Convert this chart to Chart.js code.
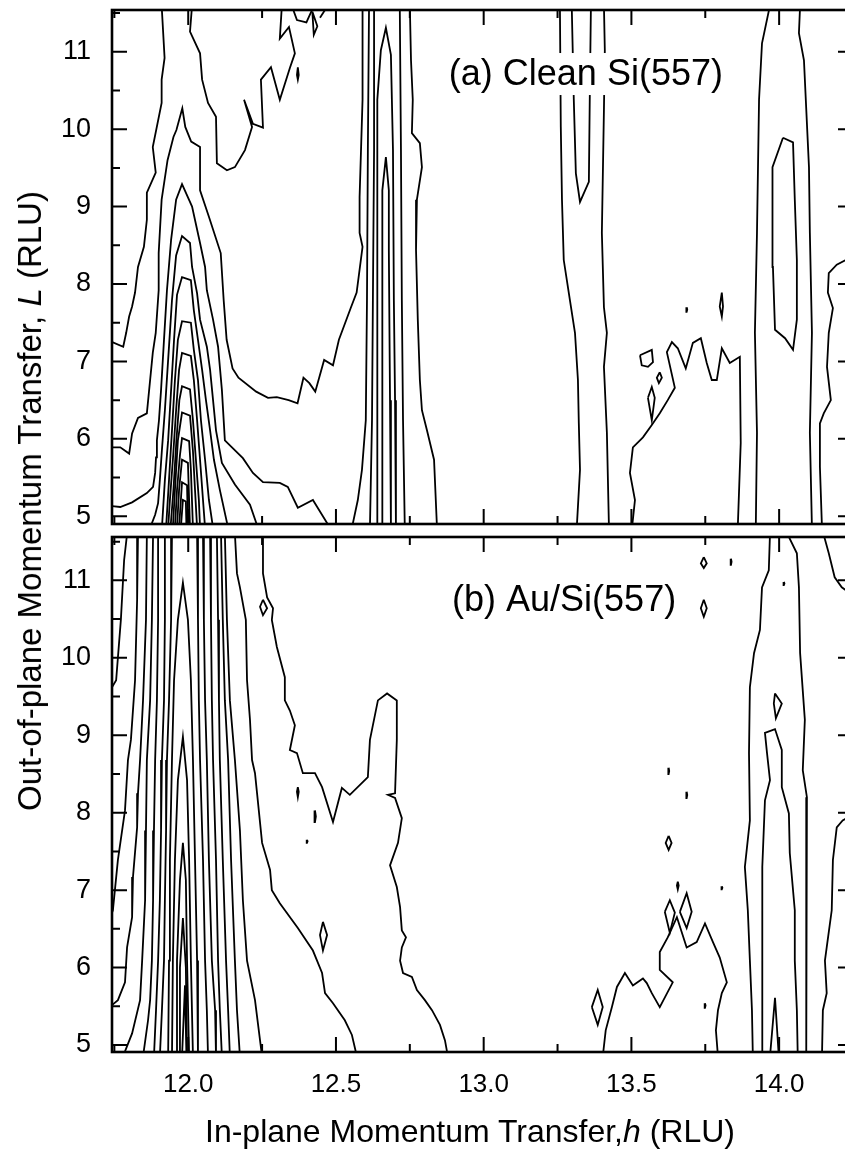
<!DOCTYPE html>
<html>
<head>
<meta charset="utf-8">
<title>Si(557) reciprocal space maps</title>
<script src="https://cdn.jsdelivr.net/npm/chart.js@4.4.1/dist/chart.umd.min.js"></script>
<style>
  html, body { margin: 0; padding: 0; background: #fff; overflow: hidden; }
  body { width: 845px; height: 1156px; position: relative; font-family: "Liberation Sans", Arial, sans-serif; }
  canvas { position: absolute; left: 0; }
  #top { top: 0; }
  #bottom { top: 530px; }
  .axis-title { position: absolute; white-space: nowrap; color: #000; }
  #ytitle { left: 30px; top: 501px; font-size: 33px; transform: translate(-50%, -50%) rotate(-90deg); }
  #xtitle { left: 470px; top: 1131px; font-size: 32px; transform: translate(-50%, -50%); }
</style>
</head>
<body>
<canvas id="top" width="860" height="530"></canvas>
<canvas id="bottom" width="860" height="626"></canvas>
<div id="ytitle" class="axis-title">Out-of-plane Momentum Transfer, <i>L</i> (RLU)</div>
<div id="xtitle" class="axis-title">In-plane Momentum Transfer,<i>h</i> (RLU)</div>
<script>
// axis ranges and ticks
const hRange = [11.742, 14.25];
const cleanLRange = [4.90, 11.54];
const auLRange = [4.91, 11.56];
const hTickLabels = [12.0, 12.5, 13.0, 13.5, 14.0];
const hMinorTicks = [11.75, 12.0, 12.25, 12.5, 12.75, 13.0, 13.25, 13.5, 13.75, 14.0];
const lTickLabels = [5, 6, 7, 8, 9, 10, 11];
const lMinorTicks = [5, 5.5, 6, 6.5, 7, 7.5, 8, 8.5, 9, 9.5, 10, 10.5, 11, 11.5];

// (a) clean Si(557): contour lines as [h, L] points
const cleanPeak = [
  [[11.91,11.6],[11.92,10.92],[11.91,10.64],[11.91,10.34],[11.88,9.77],[11.89,9.44],[11.86,9.18],[11.86,8.83],[11.85,8.48],[11.83,8.22],[11.82,7.89],[11.81,7.71],[11.80,7.58],[11.79,7.37],[11.78,7.19],[11.70,7.32]],
  [[12.013,11.6],[12.006,11.26],[12.040,10.98],[12.047,10.64],[12.067,10.34],[12.094,10.16],[12.097,9.56],[12.131,9.47],[12.158,9.51],[12.192,9.73],[12.216,10.03],[12.189,10.38],[12.219,10.07],[12.253,10.02],[12.246,10.64],[12.280,10.80],[12.310,10.38],[12.344,10.79],[12.361,10.98],[12.341,11.32],[12.310,11.17],[12.317,11.6]],
  [[12.35,11.6],[12.368,11.41],[12.40,11.38],[12.419,11.54]],
  [[12.42,11.52],[12.425,11.22],[12.437,11.33],[12.42,11.52]],
  [[12.446,11.44],[12.473,11.6]],
  [[12.371,10.80],[12.374,10.70],[12.371,10.64],[12.368,10.70],[12.371,10.80]],
  [[11.70,5.89],[11.77,5.89],[11.80,5.81],[11.81,6.07],[11.83,6.27],[11.86,6.33],[11.88,7.11],[11.89,7.37],[11.90,7.92],[11.90,8.40],[11.91,9.09],[11.93,9.60],[11.95,9.90],[11.96,9.99],[11.98,10.27],[11.99,10.03],[12.01,9.84],[12.04,9.77],[12.04,9.44],[12.04,9.21],[12.07,8.87],[12.11,8.40],[12.12,7.79],[12.13,7.28],[12.15,6.91],[12.17,6.79],[12.23,6.61],[12.27,6.53],[12.30,6.54],[12.34,6.50],[12.37,6.46],[12.39,6.79],[12.41,6.72],[12.43,6.61],[12.46,7.02],[12.49,6.95],[12.51,7.28],[12.55,7.69],[12.57,7.89],[12.59,8.48],[12.58,8.66],[12.58,9.12],[12.59,10.38],[12.59,11.6]],
  [[11.70,5.15],[11.77,5.12],[11.81,5.18],[11.86,5.30],[11.881,5.38],[11.888,5.56],[11.891,5.76],[11.894,5.98],[11.901,6.24],[11.908,6.63],[11.918,7.28],[11.928,7.92],[11.942,8.57],[11.959,9.09],[11.979,9.29],[12.013,9.00],[12.040,8.53],[12.057,8.22],[12.063,7.92],[12.084,7.54],[12.101,7.19],[12.114,6.63],[12.124,5.98],[12.148,5.89],[12.185,5.75],[12.219,5.56],[12.253,5.44],[12.310,5.43],[12.337,5.38],[12.371,5.11],[12.422,5.21],[12.48,4.85]],
  [[11.871,4.85],[11.888,5.02],[11.898,5.17],[11.904,5.47],[11.911,5.86],[11.921,6.37],[11.932,7.02],[11.945,7.79],[11.959,8.37],[11.979,8.62],[12.006,8.53],[12.013,8.22],[12.030,7.88],[12.040,7.54],[12.063,7.19],[12.074,6.89],[12.084,6.50],[12.094,6.11],[12.114,5.69],[12.158,5.41],[12.209,5.15],[12.236,4.85]],
  [[11.911,4.85],[11.921,5.47],[11.932,5.98],[11.942,6.63],[11.952,7.28],[11.962,7.86],[11.979,8.09],[12.009,8.05],[12.019,7.66],[12.033,7.28],[12.047,6.89],[12.060,6.50],[12.074,6.11],[12.087,5.73],[12.107,5.34],[12.135,4.85]],
  [[11.925,4.85],[11.935,5.47],[11.945,6.11],[11.955,6.76],[11.965,7.28],[11.979,7.52],[12.009,7.50],[12.019,7.15],[12.033,6.76],[12.043,6.24],[12.057,5.73],[12.070,5.21],[12.084,4.85]],
  [[11.932,4.85],[11.938,5.21],[11.948,5.73],[11.959,6.37],[11.969,6.89],[11.979,7.11],[12.009,7.07],[12.019,6.76],[12.030,6.24],[12.040,5.73],[12.050,5.21],[12.057,4.85]],
  [[11.940,4.85],[11.950,5.34],[11.960,5.98],[11.970,6.50],[11.979,6.68],[12.006,6.64],[12.016,6.24],[12.026,5.73],[12.036,5.21],[12.040,4.85]],
  [[11.948,4.85],[11.955,5.34],[11.965,5.98],[11.979,6.34],[12.006,6.30],[12.016,5.84],[12.023,5.34],[12.030,4.85]],
  [[11.955,4.85],[11.962,5.34],[11.972,5.79],[11.979,6.01],[12.003,5.97],[12.009,5.60],[12.016,4.85]],
  [[11.962,4.85],[11.969,5.34],[11.979,5.73],[11.999,5.69],[12.006,4.85]],
  [[11.969,4.85],[11.979,5.44],[11.996,5.40],[11.999,4.85]],
  [[11.975,4.85],[11.982,5.21],[11.992,5.19],[11.994,4.85]]
];
const cleanBand = [
  [[12.612,11.6],[12.608,9.73],[12.605,7.79],[12.601,6.24],[12.588,5.60],[12.574,5.21],[12.554,4.85]],
  [[12.629,11.6],[12.629,9.73],[12.625,7.79],[12.622,6.24],[12.615,4.85]],
  [[12.639,4.85],[12.639,6.50],[12.639,8.44],[12.642,10.38],[12.652,11.02],[12.669,11.31],[12.686,10.96],[12.693,9.73],[12.696,7.79],[12.700,6.50],[12.703,4.85]],
  [[12.656,4.85],[12.656,6.50],[12.656,8.44],[12.659,9.21],[12.669,9.64],[12.679,9.21],[12.679,8.44],[12.683,6.50],[12.686,4.85]],
  [[12.716,11.6],[12.720,9.73],[12.723,7.79],[12.727,6.24],[12.733,4.85]],
  [[12.750,11.6],[12.754,10.89],[12.760,10.38],[12.757,9.95],[12.784,9.82],[12.791,9.51],[12.774,9.09],[12.771,8.44],[12.777,7.54],[12.784,6.76],[12.791,6.37],[12.808,6.11],[12.832,5.73],[12.842,4.85]]
];
const cleanRight = [
  [[13.258,11.6],[13.261,10.03],[13.265,9.09],[13.271,8.31],[13.292,7.79],[13.309,7.37],[13.319,6.76],[13.322,6.20],[13.326,5.60],[13.315,4.85]],
  [[13.298,11.6],[13.305,10.38],[13.312,9.43],[13.326,9.06],[13.356,9.32],[13.359,10.38],[13.363,11.6]],
  [[13.407,11.6],[13.410,11.02],[13.407,10.25],[13.400,8.66],[13.407,7.70],[13.417,7.37],[13.407,6.93],[13.417,6.08],[13.424,4.85]],
  [[13.502,4.85],[13.512,5.21],[13.495,5.56],[13.505,5.89],[13.539,6.02],[13.569,6.18],[13.596,6.33],[13.623,6.50],[13.647,6.66],[13.620,7.12],[13.637,7.25],[13.657,7.17],[13.684,6.91],[13.708,7.24],[13.735,7.30],[13.755,6.98],[13.772,6.76],[13.789,6.76],[13.806,7.17],[13.833,6.98],[13.867,7.06],[13.870,5.95],[13.860,4.85]],
  [[13.529,7.08],[13.569,7.15],[13.573,6.99],[13.556,6.93],[13.535,6.95],[13.529,7.08]],
  [[13.596,6.86],[13.603,6.79],[13.593,6.72],[13.586,6.79],[13.596,6.86]],
  [[13.556,6.53],[13.569,6.67],[13.579,6.53],[13.569,6.24],[13.556,6.53]],
  [[13.687,7.70],[13.689,7.67],[13.687,7.64],[13.685,7.67],[13.687,7.70]],
  [[13.806,7.89],[13.810,7.71],[13.806,7.58],[13.799,7.71],[13.806,7.89]],
  [[13.969,11.6],[13.942,11.11],[13.932,10.38],[13.925,8.66],[13.918,7.37],[13.925,6.08],[13.921,4.85]],
  [[14.071,11.6],[14.067,11.24],[14.084,10.89],[14.101,9.51],[14.104,8.66],[14.111,7.37],[14.104,6.08],[14.111,4.85]],
  [[14.013,9.89],[14.047,9.83],[14.053,9.09],[14.060,8.31],[14.060,7.54],[14.047,7.15],[14.020,7.30],[13.986,7.41],[13.979,8.22],[13.976,8.66],[13.979,9.51],[14.013,9.89]],
  [[14.26,8.38],[14.195,8.25],[14.168,8.14],[14.165,7.89],[14.182,7.69],[14.168,7.37],[14.162,6.93],[14.175,6.50],[14.151,6.33],[14.138,6.20],[14.138,5.64],[14.145,4.85]],
  [[14.22,4.85],[14.235,5.0],[14.26,5.05]]
];

// (b) Au/Si(557)
const auPeak = [
  [[11.793,11.6],[11.783,11.26],[11.772,10.49],[11.756,9.71],[11.70,9.35]],
  [[11.830,11.6],[11.827,10.75],[11.820,9.71],[11.806,8.94],[11.796,8.68],[11.786,8.03],[11.762,7.39],[11.745,6.74],[11.70,6.25]],
  [[11.860,11.6],[11.857,10.49],[11.847,9.45],[11.837,8.68],[11.830,8.25],[11.827,7.81],[11.813,7.17],[11.810,6.65],[11.793,6.26],[11.786,5.81],[11.762,5.58],[11.70,5.38]],
  [[11.881,11.6],[11.877,10.49],[11.871,9.45],[11.860,8.68],[11.857,7.77],[11.854,6.87],[11.844,6.09],[11.837,5.58],[11.810,5.15],[11.779,4.85]],
  [[11.898,11.6],[11.898,10.49],[11.894,9.45],[11.888,8.68],[11.884,7.77],[11.881,6.87],[11.877,6.09],[11.871,5.58],[11.864,5.32],[11.847,4.85]],
  [[11.921,11.6],[11.921,10.49],[11.918,9.45],[11.911,8.68],[11.908,7.77],[11.904,6.87],[11.898,6.09],[11.891,5.45],[11.884,4.85]],
  [[11.945,11.6],[11.942,10.49],[11.935,9.45],[11.928,8.68],[11.925,7.77],[11.921,6.87],[11.918,6.09],[11.911,5.45],[11.904,4.85]],
  [[11.932,4.85],[11.935,6.09],[11.938,7.39],[11.945,8.68],[11.952,9.71],[11.965,10.49],[11.982,10.97],[11.999,10.49],[12.009,9.71],[12.016,8.68],[12.023,7.39],[12.030,6.09],[12.033,4.85]],
  [[11.945,4.85],[11.948,6.09],[11.955,7.39],[11.965,8.42],[11.982,8.98],[11.996,8.42],[12.003,7.39],[12.009,6.09],[12.016,4.85]],
  [[11.959,4.85],[11.962,6.09],[11.972,7.13],[11.982,7.61],[11.992,7.13],[11.996,6.09],[12.003,4.85]],
  [[11.969,4.85],[11.972,6.00],[11.982,6.64],[11.992,6.00],[11.996,4.85]],
  [[11.979,4.85],[11.989,5.77],[11.994,4.85]],
  [[12.030,11.6],[12.033,10.49],[12.036,9.45],[12.040,8.68],[12.050,7.39],[12.057,6.09],[12.063,5.45],[12.067,4.85]],
  [[12.050,11.6],[12.053,10.49],[12.057,9.45],[12.063,8.68],[12.070,7.39],[12.080,6.09],[12.091,5.45],[12.094,4.85]],
  [[12.074,11.6],[12.077,10.49],[12.080,9.45],[12.084,8.68],[12.094,7.39],[12.101,6.09],[12.107,5.45],[12.114,4.85]],
  [[12.097,11.6],[12.101,10.49],[12.104,9.45],[12.107,8.68],[12.117,7.39],[12.128,6.09],[12.135,5.45],[12.141,4.85]],
  [[12.111,11.6],[12.117,10.49],[12.124,9.45],[12.135,8.68],[12.145,7.39],[12.158,6.09],[12.165,5.45],[12.175,4.85]],
  [[12.124,11.6],[12.131,10.49],[12.141,9.45],[12.158,8.68],[12.175,7.77],[12.185,6.87],[12.199,6.09],[12.226,5.58],[12.250,4.85]],
  [[12.158,11.6],[12.165,11.09],[12.175,10.91],[12.195,10.49],[12.199,9.71],[12.209,9.20],[12.216,8.68],[12.226,8.51],[12.233,8.25],[12.250,7.61],[12.277,7.26],[12.283,7.00],[12.310,6.83],[12.371,6.51],[12.422,6.22],[12.453,5.93],[12.463,5.67],[12.490,5.54],[12.530,5.32],[12.554,5.13],[12.571,4.85]]
];
const auMiddle = [
  [[12.253,11.6],[12.253,11.09],[12.267,10.78],[12.287,10.64],[12.283,10.49],[12.300,10.14],[12.327,9.75],[12.327,9.45],[12.344,9.32],[12.361,9.13],[12.344,8.81],[12.368,8.77],[12.388,8.51],[12.429,8.51],[12.453,8.33],[12.490,7.88],[12.520,8.32],[12.547,8.23],[12.608,8.46],[12.615,8.94],[12.642,9.45],[12.673,9.54],[12.706,9.45],[12.706,8.94],[12.700,8.25],[12.676,8.23],[12.700,8.19],[12.723,7.93],[12.710,7.61],[12.683,7.32],[12.706,7.04],[12.717,6.78],[12.723,6.48],[12.737,6.39],[12.723,6.26],[12.717,6.09],[12.727,5.93],[12.757,5.88],[12.774,5.71],[12.801,5.58],[12.825,5.45],[12.852,5.26],[12.869,5.06],[12.879,4.85]],
  [[12.253,10.75],[12.267,10.64],[12.253,10.55],[12.243,10.66],[12.253,10.75]],
  [[12.371,8.33],[12.374,8.27],[12.371,8.20],[12.368,8.27],[12.371,8.33]],
  [[12.429,8.03],[12.432,7.95],[12.429,7.88],[12.426,7.95],[12.429,8.03]],
  [[12.402,7.65],[12.404,7.63],[12.402,7.61],[12.400,7.63],[12.402,7.65]],
  [[12.456,6.59],[12.470,6.42],[12.456,6.22],[12.446,6.42],[12.456,6.59]]
];
const auRight = [
  [[13.745,11.30],[13.755,11.22],[13.745,11.16],[13.735,11.22],[13.745,11.30]],
  [[13.837,11.28],[13.839,11.24],[13.837,11.20],[13.835,11.24],[13.837,11.28]],
  [[13.745,10.75],[13.755,10.64],[13.745,10.53],[13.735,10.64],[13.745,10.75]],
  [[14.016,10.98],[14.018,10.96],[14.016,10.94],[14.014,10.96],[14.016,10.98]],
  [[13.986,9.54],[14.009,9.41],[13.989,9.22],[13.982,9.41],[13.986,9.54]],
  [[13.626,8.58],[13.628,8.54],[13.626,8.50],[13.624,8.54],[13.626,8.58]],
  [[13.687,8.27],[13.689,8.23],[13.687,8.19],[13.685,8.23],[13.687,8.27]],
  [[13.626,7.70],[13.636,7.61],[13.626,7.52],[13.616,7.61],[13.626,7.70]],
  [[13.657,7.11],[13.660,7.06],[13.657,7.01],[13.654,7.06],[13.657,7.11]],
  [[13.806,7.05],[13.808,7.03],[13.806,7.01],[13.804,7.03],[13.806,7.05]],
  [[13.613,6.72],[13.630,6.87],[13.647,6.71],[13.630,6.45],[13.613,6.72]],
  [[13.664,6.72],[13.687,6.96],[13.704,6.72],[13.687,6.51],[13.664,6.72]],
  [[13.403,4.85],[13.413,5.19],[13.434,5.49],[13.451,5.75],[13.478,5.93],[13.505,5.77],[13.539,5.86],[13.552,5.80],[13.569,5.67],[13.596,5.49],[13.640,5.81],[13.596,5.97],[13.596,6.20],[13.623,6.39],[13.654,6.65],[13.687,6.26],[13.721,6.33],[13.749,6.57],[13.776,6.33],[13.799,6.13],[13.823,5.81],[13.806,5.67],[13.793,5.45],[13.786,5.19],[13.793,4.85]],
  [[13.366,5.49],[13.386,5.71],[13.403,5.49],[13.386,5.26],[13.366,5.49]],
  [[13.749,5.54],[13.751,5.51],[13.749,5.48],[13.747,5.51],[13.749,5.54]],
  [[13.969,11.6],[13.965,11.13],[13.942,10.91],[13.935,10.36],[13.915,10.06],[13.901,9.62],[13.898,8.77],[13.901,7.90],[13.884,7.30],[13.894,6.74],[13.901,6.09],[13.908,5.45],[13.911,4.85]],
  [[14.028,11.6],[14.060,11.35],[14.067,10.91],[14.071,10.06],[14.087,9.20],[14.080,8.55],[14.094,8.20],[14.091,7.39],[14.091,6.52],[14.091,5.45],[14.094,4.85]],
  [[13.942,4.85],[13.942,5.45],[13.945,6.09],[13.942,7.30],[13.952,8.16],[13.969,8.42],[13.959,8.77],[13.952,9.03],[13.986,9.08],[14.009,8.81],[14.009,8.33],[14.033,7.99],[14.036,7.48],[14.053,6.74],[14.053,6.09],[14.060,5.45],[14.063,4.85]],
  [[14.150,11.6],[14.168,11.35],[14.188,11.04],[14.212,10.91],[14.26,10.78]],
  [[14.26,8.00],[14.215,7.90],[14.195,7.81],[14.182,7.39],[14.178,6.74],[14.161,6.26],[14.155,6.09],[14.161,5.67],[14.148,5.45],[14.145,4.85]],
  [[13.969,4.85],[13.986,5.61],[13.999,4.85]]
];

const FONT = '"Liberation Sans", Arial, Helvetica, sans-serif';
Chart.defaults.font.family = FONT;
Chart.defaults.color = '#000';

function near(list, v) {
  return list.some(t => Math.abs(t - v) < 1e-6);
}

// frame, inward ticks and panel caption
const panelFrame = {
  id: 'panelFrame',
  afterDatasetsDraw(chart, args, opts) {
    const {ctx, chartArea: {left, right, top, bottom}, scales: {x, y}} = chart;
    ctx.save();
    if (opts.text) {
      ctx.font = '36px ' + FONT;
      ctx.textBaseline = 'middle';
      ctx.textAlign = 'left';
      const tx = x.getPixelForValue(opts.at[0]);
      const ty = y.getPixelForValue(opts.at[1]);
      const w = ctx.measureText(opts.text).width;
      ctx.fillStyle = '#fff';
      ctx.fillRect(tx - 4, ty - 22, w + 8, 42);
      ctx.fillStyle = '#000';
      ctx.fillText(opts.text, tx, ty);
    }
    ctx.strokeStyle = '#000';
    ctx.lineWidth = 2;
    ctx.beginPath();
    hMinorTicks.forEach(v => {
      const px = x.getPixelForValue(v);
      const len = near(hTickLabels, v) ? 15 : 8;
      ctx.moveTo(px, top); ctx.lineTo(px, top + len);
      ctx.moveTo(px, bottom); ctx.lineTo(px, bottom - len);
    });
    lMinorTicks.forEach(v => {
      const py = y.getPixelForValue(v);
      const len = near(lTickLabels, v) ? 15 : 8;
      ctx.moveTo(left, py); ctx.lineTo(left + len, py);
      ctx.moveTo(right, py); ctx.lineTo(right - len, py);
    });
    ctx.stroke();
    ctx.lineWidth = 2.6;
    ctx.strokeRect(left, top, right - left, bottom - top);
    ctx.restore();
  }
};

function makePanel(id, lines, lRange, showH, padTop, xHeight, caption) {
  return new Chart(document.getElementById(id), {
    type: 'scatter',
    data: {
      datasets: lines.map(pts => ({
        data: pts.map(p => ({x: p[0], y: p[1]})),
        showLine: true,
        borderColor: '#000',
        borderWidth: 1.8,
        pointRadius: 0,
        fill: false,
        tension: 0
      }))
    },
    options: {
      responsive: false,
      animation: false,
      devicePixelRatio: 1,
      events: [],
      layout: {padding: {top: padTop, right: 7, left: 0, bottom: 0}},
      plugins: {
        legend: {display: false},
        tooltip: {enabled: false},
        panelFrame: caption
      },
      scales: {
        x: {
          type: 'linear', min: hRange[0], max: hRange[1],
          grid: {display: false, drawTicks: false},
          border: {display: false},
          ticks: {
            display: showH, stepSize: 0.25, includeBounds: false, autoSkip: false,
            maxRotation: 0, padding: 17, font: {size: 26},
            callback: v => near(hTickLabels, v) ? Number(v).toFixed(1) : ''
          },
          afterFit: s => {
            s.height = xHeight;
            s.paddingLeft = 0; s.paddingRight = 0; s.paddingTop = 0; s.paddingBottom = 0;
          }
        },
        y: {
          type: 'linear', min: lRange[0], max: lRange[1],
          grid: {display: false, drawTicks: false},
          border: {display: false},
          ticks: {
            stepSize: 0.5, includeBounds: false, autoSkip: false, padding: 21, font: {size: 27},
            callback: v => near(lTickLabels, v) ? String(Math.round(v)) : ''
          },
          afterFit: s => {
            s.width = 112;
            s.paddingLeft = 0; s.paddingRight = 0; s.paddingTop = 0; s.paddingBottom = 0;
          }
        }
      }
    },
    plugins: [panelFrame]
  });
}

makePanel('top', [...cleanPeak, ...cleanBand, ...cleanRight], cleanLRange, false, 10, 6,
  {text: '(a) Clean Si(557)', at: [12.882, 10.70]});
makePanel('bottom', [...auPeak, ...auMiddle, ...auRight], auLRange, true, 7, 104,
  {text: '(b) Au/Si(557)', at: [12.893, 10.73]});
</script>
</body>
</html>
